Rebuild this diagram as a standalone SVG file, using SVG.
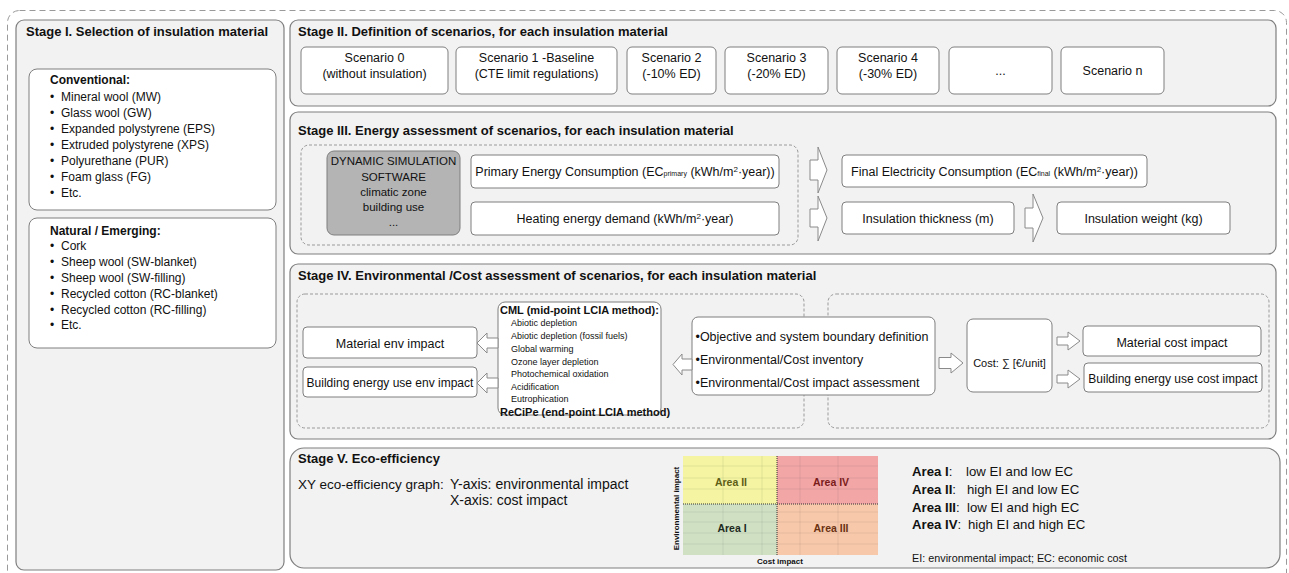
<svg xmlns="http://www.w3.org/2000/svg" width="1289" height="573" viewBox="0 0 1289 573">
<style>
text{font-family:"Liberation Sans",Arial,sans-serif;fill:#111}
.t{font-size:13px;font-weight:bold}
.b{font-size:12.5px}
.s{font-size:12px}
.bb{font-weight:bold}
.m{text-anchor:middle}
.panel{fill:#f2f2f2;stroke:#7f7f7f;stroke-width:1.2}
.box{fill:#fff;stroke:#7f7f7f;stroke-width:1}
.dash{fill:none;stroke:#9a9a9a;stroke-width:1;stroke-dasharray:3 2}
.arr{fill:#fff;stroke:#8a8a8a;stroke-width:1}
.grid{stroke:#000;stroke-opacity:0.07;stroke-width:1}
.div{stroke:#333;stroke-width:1;stroke-dasharray:1 1}
.cml{font-size:9px}
.leg{font-size:13.2px}
</style>
<rect x="7.5" y="10.5" width="1279" height="600" rx="12" fill="none" stroke="#9a9a9a" stroke-width="1" stroke-dasharray="6 4"/>

<g id="stage1">
<rect class="panel" x="16" y="20" width="268" height="550" rx="8"/>
<text class="t" x="26" y="35.5">Stage I. Selection of insulation material</text>
<g id="conventional">
<rect class="box" x="29" y="69" width="247" height="141" rx="8"/>
<text class="s bb" x="50" y="84.2">Conventional:</text>
<text class="s" x="50" y="100.9">•</text><text class="s" x="61" y="100.9">Mineral wool (MW)</text>
<text class="s" x="50" y="116.9">•</text><text class="s" x="61" y="116.9">Glass wool (GW)</text>
<text class="s" x="50" y="132.9">•</text><text class="s" x="61" y="132.9">Expanded polystyrene (EPS)</text>
<text class="s" x="50" y="148.9">•</text><text class="s" x="61" y="148.9">Extruded polystyrene (XPS)</text>
<text class="s" x="50" y="164.9">•</text><text class="s" x="61" y="164.9">Polyurethane (PUR)</text>
<text class="s" x="50" y="180.9">•</text><text class="s" x="61" y="180.9">Foam glass (FG)</text>
<text class="s" x="50" y="196.9">•</text><text class="s" x="61" y="196.9">Etc.</text>
</g>
<g id="natural">
<rect class="box" x="29" y="218" width="247" height="130" rx="8"/>
<text class="s bb" x="50" y="234.9">Natural / Emerging:</text>
<text class="s" x="50" y="249.9">•</text><text class="s" x="61" y="249.9">Cork</text>
<text class="s" x="50" y="265.9">•</text><text class="s" x="61" y="265.9">Sheep wool (SW-blanket)</text>
<text class="s" x="50" y="281.6">•</text><text class="s" x="61" y="281.6">Sheep wool (SW-filling)</text>
<text class="s" x="50" y="297.5">•</text><text class="s" x="61" y="297.5">Recycled cotton (RC-blanket)</text>
<text class="s" x="50" y="313.5">•</text><text class="s" x="61" y="313.5">Recycled cotton (RC-filling)</text>
<text class="s" x="50" y="329.2">•</text><text class="s" x="61" y="329.2">Etc.</text>
</g>
</g>

<g id="stage2">
<rect class="panel" x="290" y="20" width="986" height="86" rx="8"/>
<text class="t" x="298" y="35.5">Stage II. Definition of scenarios, for each insulation material</text>
<g id="sc0"><rect class="box" x="301" y="47" width="147" height="47" rx="5"/>
<text class="b m" x="374.5" y="61.5">Scenario 0</text><text class="b m" x="374.5" y="77.5">(without insulation)</text></g>
<g id="sc1"><rect class="box" x="456" y="47" width="161" height="47" rx="5"/>
<text class="b m" x="536.5" y="61.5">Scenario 1 -Baseline</text><text class="b m" x="536.5" y="77.5">(CTE limit regulations)</text></g>
<g id="sc2"><rect class="box" x="627" y="47" width="89" height="47" rx="5"/>
<text class="b m" x="671.5" y="61.5">Scenario 2</text><text class="b m" x="671.5" y="77.5">(-10% ED)</text></g>
<g id="sc3"><rect class="box" x="725" y="47" width="103" height="47" rx="5"/>
<text class="b m" x="776.5" y="61.5">Scenario 3</text><text class="b m" x="776.5" y="77.5">(-20% ED)</text></g>
<g id="sc4"><rect class="box" x="837" y="47" width="102" height="47" rx="5"/>
<text class="b m" x="888" y="61.5">Scenario 4</text><text class="b m" x="888" y="77.5">(-30% ED)</text></g>
<g id="scdots"><rect class="box" x="949" y="47" width="103" height="47" rx="5"/>
<text class="b m" x="1000.5" y="74.5">...</text></g>
<g id="scn"><rect class="box" x="1061" y="47" width="103" height="47" rx="5"/>
<text class="b m" x="1112.5" y="74.5">Scenario n</text></g>
</g>

<g id="stage3">
<rect class="panel" x="290" y="112" width="986" height="142" rx="8"/>
<text class="t" x="298" y="134.5">Stage III. Energy assessment of scenarios, for each insulation material</text>
<rect class="dash" x="301" y="145" width="497" height="100" rx="8"/>
<g id="dynsim"><rect x="327" y="151" width="133" height="84" rx="7" fill="#b4b4b4" stroke="#7f7f7f" stroke-width="1"/>
<text class="m" style="font-size:11.5px" x="393.5" y="165">DYNAMIC SIMULATION</text>
<text class="m" style="font-size:11.5px" x="393.5" y="180.5">SOFTWARE</text>
<text class="m" style="font-size:11.5px" x="393.5" y="196">climatic zone</text>
<text class="m" style="font-size:11.5px" x="393.5" y="211">building use</text>
<text class="m" style="font-size:11.5px" x="393.5" y="226">...</text></g>
<g id="primary"><rect class="box" x="471" y="155" width="308" height="33" rx="4"/>
<text class="b m" x="625" y="175.5">Primary Energy Consumption (EC<tspan style="font-size:7px">primary</tspan> (kWh/m<tspan style="font-size:8px" dy="-4">2</tspan><tspan dy="4">·year))</tspan></text></g>
<g id="heating"><rect class="box" x="471" y="202" width="308" height="33" rx="4"/>
<text class="b m" x="625" y="222.5">Heating energy demand (kWh/m<tspan style="font-size:8px" dy="-4">2</tspan><tspan dy="4">·year)</tspan></text></g>
<g id="final"><rect class="box" x="842" y="155" width="305" height="32" rx="4"/>
<text class="b m" x="994.5" y="175.5">Final Electricity Consumption (EC<tspan style="font-size:7px">final</tspan> (kWh/m<tspan style="font-size:8px" dy="-4">2</tspan><tspan dy="4">·year))</tspan></text></g>
<g id="thickness"><rect class="box" x="842" y="202" width="172" height="32" rx="4"/>
<text class="b m" x="928" y="222.5">Insulation thickness (m)</text></g>
<g id="weight"><rect class="box" x="1057" y="202" width="173" height="32" rx="4"/>
<text class="b m" x="1143.5" y="222.5">Insulation weight (kg)</text></g>
</g>

<g id="stage4">
<rect class="panel" x="290" y="264" width="986" height="175" rx="8"/>
<text class="t" x="298" y="279.5">Stage IV. Environmental /Cost assessment of scenarios, for each insulation material</text>
<rect class="dash" x="297" y="294" width="507" height="134" rx="8"/>
<rect class="dash" x="828" y="294" width="441" height="134" rx="8"/>
<g id="matenv"><rect class="box" x="303" y="327" width="174" height="31" rx="4"/>
<text class="b m" x="390" y="347.5">Material env impact</text></g>
<g id="bldenv"><rect class="box" x="303" y="367" width="174" height="30" rx="4"/>
<text class="s m" x="390" y="387.3">Building energy use env impact</text></g>
<g id="cml"><rect class="box" x="498" y="302" width="163" height="113" rx="7"/>
<text class="bb" style="font-size:11px" x="500" y="314">CML (mid-point LCIA method):</text>
<text class="cml" x="511" y="326.2">Abiotic depletion</text>
<text class="cml" x="511" y="339.2">Abiotic depletion (fossil fuels)</text>
<text class="cml" x="511" y="352.2">Global warming</text>
<text class="cml" x="511" y="364.7">Ozone layer depletion</text>
<text class="cml" x="511" y="377.2">Photochemical oxidation</text>
<text class="cml" x="511" y="389.9">Acidification</text>
<text class="cml" x="511" y="402.4">Eutrophication</text>
<text class="bb" style="font-size:11px" x="500" y="416">ReCiPe (end-point LCIA method)</text></g>
<g id="objective"><rect class="box" x="692" y="317" width="243" height="78" rx="6"/>
<text class="b" x="695.5" y="340.5">•Objective and system boundary definition</text>
<text class="b" x="695.5" y="363.5">•Environmental/Cost inventory</text>
<text class="b" x="695.5" y="386.5">•Environmental/Cost impact assessment</text></g>
<g id="cost"><rect class="box" x="967" y="319" width="85" height="73" rx="6"/>
<text class="m" style="font-size:11px" x="1009.5" y="367">Cost:  ∑ [€/unit]</text></g>
<g id="matcost"><rect class="box" x="1083" y="326" width="178" height="30" rx="4"/>
<text class="b m" x="1172" y="346.5">Material cost impact</text></g>
<g id="bldcost"><rect class="box" x="1084" y="363" width="178" height="29" rx="4"/>
<text class="s m" x="1173" y="383.3">Building energy use cost impact</text></g>
</g>

<g id="stage5">
<rect class="panel" x="290" y="448" width="990" height="120" rx="14"/>
<text class="t" x="298" y="462.5">Stage V. Eco-efficiency</text>
<text style="font-size:13.5px" x="298" y="489">XY eco-efficiency graph:</text>
<text style="font-size:14px" x="450" y="489">Y-axis: environmental impact</text>
<text style="font-size:14px" x="450" y="505">X-axis: cost impact</text>
<g id="graph">
<rect x="683" y="456" width="94" height="48" fill="#f4f4a2"/>
<rect x="777" y="456" width="101" height="48" fill="#f2a6a6"/>
<rect x="683" y="504" width="94" height="51" fill="#cfe0c3"/>
<rect x="777" y="504" width="101" height="51" fill="#f7c9aa"/>
<path class="grid" d="M723 456V555M762 456V555M800 456V555M838 456V555M683 466H878M683 478H878M683 489H878M683 512H878M683 522H878M683 533H878M683 544H878"/>
<path class="div" d="M777 456V555M683 504H878"/>
<text class="bb m" style="font-size:10.5px;fill:#5e5e16" x="731" y="486">Area II</text>
<text class="bb m" style="font-size:10.5px;fill:#7a1c1c" x="831" y="486">Area IV</text>
<text class="bb m" style="font-size:10.5px;fill:#1e2a1e" x="732" y="532">Area I</text>
<text class="bb m" style="font-size:10.5px;fill:#6b3212" x="831" y="532">Area III</text>
<text class="bb m" style="font-size:8px" x="679" y="508.5" transform="rotate(-90 679 508.5)">Environmental impact</text>
<text class="bb m" style="font-size:8px" x="780" y="564">Cost impact</text>
</g>
<g id="legend">
<text class="leg" x="912" y="475.5"><tspan class="bb">Area I</tspan>:</text><text class="leg" x="966" y="475.5">low EI and low EC</text>
<text class="leg" x="912" y="493.5"><tspan class="bb">Area II</tspan>:</text><text class="leg" x="967" y="493.5">high EI and low EC</text>
<text class="leg" x="912" y="511.5"><tspan class="bb">Area III</tspan>:</text><text class="leg" x="967" y="511.5">low EI and high EC</text>
<text class="leg" x="912" y="528.5"><tspan class="bb">Area IV</tspan>:</text><text class="leg" x="968" y="528.5">high EI and high EC</text>
<text style="font-size:10.5px" x="912" y="561.5" textLength="215" lengthAdjust="spacingAndGlyphs">EI: environmental impact; EC: economic cost</text>
</g>
</g>

<g id="connectors">
<path class="arr" d="M810 160H818V147L827 170L818 193V180H810Z"/>
<path class="arr" d="M810 209H818V196L827 218L818 241V227H810Z"/>
<path class="arr" d="M1025 208H1033V194L1043 218L1033 242V228H1025Z"/>
<path class="arr" d="M498 338H487V333L477 343L487 353V348H498Z"/>
<path class="arr" d="M498 378H487V373L477 383L487 393V388H498Z"/>
<path class="arr" d="M692 359H682V354L673 364.5L682 375V370H692Z"/>
<path class="arr" d="M939 357.5H951V353L963 363L951 373V368.5H939Z"/>
<path class="arr" d="M1057 337H1068V332L1080 341L1068 350V345H1057Z"/>
<path class="arr" d="M1057 375H1068V370L1080 379L1068 388V383H1057Z"/>
</g>
</svg>
